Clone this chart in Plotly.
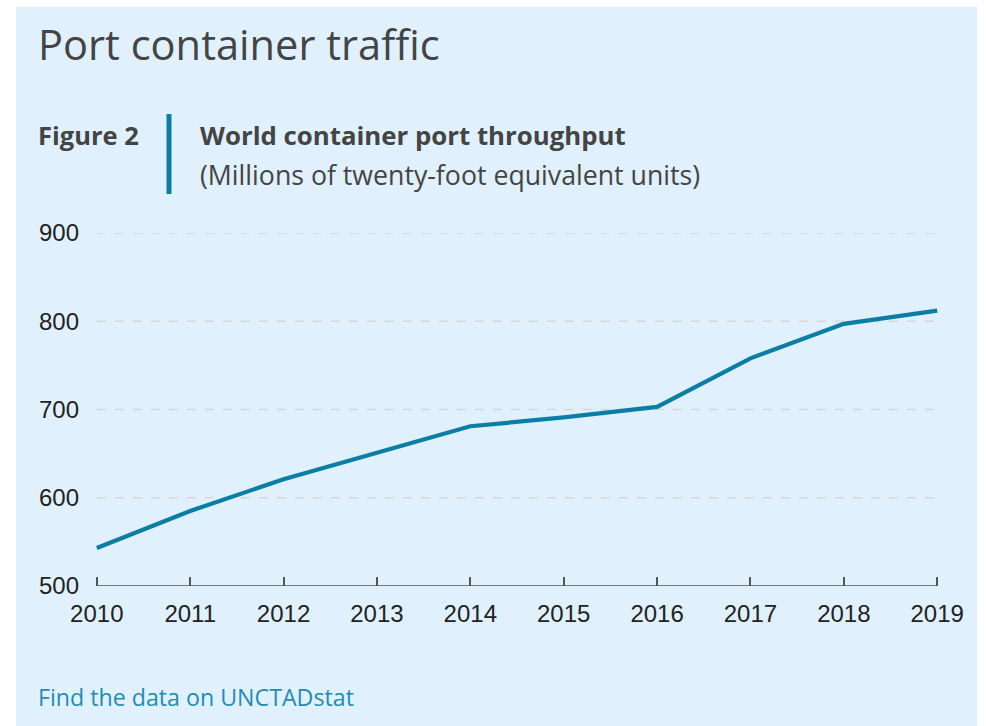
import plotly.graph_objects as go

years = [2010, 2011, 2012, 2013, 2014, 2015, 2016, 2017, 2018, 2019]
throughput = [543, 585, 621, 651, 681, 691, 703, 758, 797, 812]
y_ticks = [500, 600, 700, 800, 900]
grid_values = [600, 700, 800, 900]

title_text = "Port container traffic"
figure_label = "Figure 2"
chart_title = "World container port throughput"
chart_subtitle = "(Millions of twenty-foot equivalent units)"
source_text = "Find the data on UNCTADstat"

W, H = 986, 726
L, R, T, B = 94, 46, 233, 140
pw, ph = W - L - R, H - T - B

def px(x):
    return (x - L) / pw

def py(y):
    return (H - B - y) / ph

LINE = "#0a7ea4"
TXT = "#444444"

fig = go.Figure()
fig.add_trace(go.Scatter(
    x=years, y=throughput, mode="lines",
    line=dict(color=LINE, width=4.2),
    hoverinfo="x+y", showlegend=False,
))

shapes = [
    dict(type="rect", xref="paper", yref="paper", x0=px(16), x1=px(977), y0=py(726), y1=py(7),
         fillcolor="#e0f1fd", line=dict(width=0), layer="below"),
    dict(type="line", xref="paper", yref="paper", x0=px(169), x1=px(169), y0=py(114), y1=py(194),
         line=dict(color=LINE, width=5)),
    dict(type="line", xref="x", yref="y", x0=years[0], x1=years[-1], y0=y_ticks[0], y1=y_ticks[0],
         line=dict(color="#555555", width=1.5), layer="above"),
]
for g in grid_values:
    shapes.append(dict(type="line", xref="x", yref="y", x0=years[0], x1=years[-1], y0=g, y1=g,
                       line=dict(color="#d9d6d2", width=1.3, dash="dash"), layer="below"))

annotations = [
    dict(text=title_text, x=px(36), y=py(44), xref="paper", yref="paper", xanchor="left", yanchor="middle",
         showarrow=False, font=dict(family="Open Sans", size=41.6, color=TXT)),
    dict(text="<b>" + figure_label + "</b>", x=px(36), y=py(135), xref="paper", yref="paper", xanchor="left",
         yanchor="middle", showarrow=False, font=dict(family="Open Sans", size=25.5, color=TXT)),
    dict(text="<b>" + chart_title + "</b>", x=px(198), y=py(135), xref="paper", yref="paper", xanchor="left",
         yanchor="middle", showarrow=False, font=dict(family="Open Sans", size=25.8, color=TXT)),
    dict(text=chart_subtitle, x=px(198), y=py(174), xref="paper", yref="paper", xanchor="left",
         yanchor="middle", showarrow=False, font=dict(family="Open Sans", size=26.7, color=TXT)),
    dict(text=source_text, x=px(36), y=py(697), xref="paper", yref="paper", xanchor="left",
         yanchor="middle", showarrow=False, font=dict(family="Open Sans", size=23.2, color="#1f8db3")),
]

fig.update_layout(
    width=W, height=H,
    margin=dict(l=L, r=R, t=T, b=B, pad=0),
    paper_bgcolor="white",
    plot_bgcolor="rgba(0,0,0,0)",
    shapes=shapes,
    annotations=annotations,
    xaxis=dict(
        range=[years[0] - 0.03, years[-1] + 0.03],
        tickmode="array", tickvals=years, ticktext=[str(y) for y in years],
        ticks="inside", ticklen=9, tickwidth=1.5, tickcolor="#555555",
        showline=False, showgrid=False, zeroline=False,
        tickfont=dict(family="Liberation Sans, Arial", size=24, color="#222222"),
        ticklabelstandoff=11,
    ),
    yaxis=dict(
        range=[y_ticks[0], y_ticks[-1]],
        tickmode="array", tickvals=y_ticks, ticktext=[str(v) for v in y_ticks],
        ticks="", showline=False, showgrid=False, zeroline=False,
        tickfont=dict(family="Liberation Sans, Arial", size=24, color="#222222"),
        ticklabelstandoff=14,
    ),
)

fig.write_html("out.html", config={"displayModeBar": False})
